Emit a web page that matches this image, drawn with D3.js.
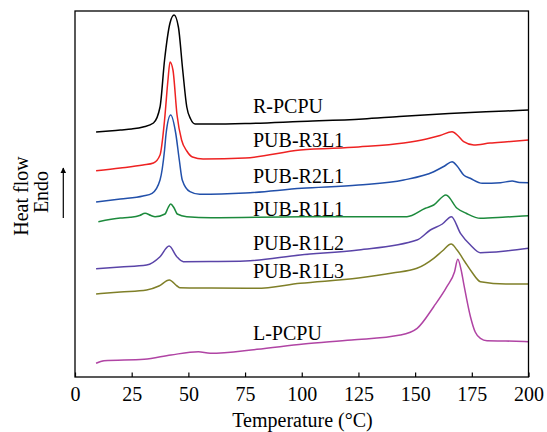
<!DOCTYPE html>
<html>
<head>
<meta charset="utf-8">
<script src="https://cdn.jsdelivr.net/npm/d3@7"></script>
<style>
  body { margin: 0; background: #fff; }
  text { font-family: "Liberation Serif", "Times New Roman", serif; }
</style>
</head>
<body>
<svg width="547" height="432"></svg>
<script>
// DSC curves, [temperature (°C), heat flow (a.u., endo up, offset per curve)]
const rPCPU = [[9.3,245],[15,246],[20,247],[25,248],[30,250],[34.6,254],[37.5,270],[39.5,317],[41.9,354],[43.7,362],
  [45.6,350],[47.5,307],[49.3,270],[51,258],[53,253],[60,253],[75,253.5],[99,255.5],[127,258],[143,260.5],[165,263.5],[190,266],[200,267]];
const pubR3L1 = [[9.3,206.3],[20,209],[30,212],[34.6,214],[37.5,222],[39.5,257],[41,297],[41.9,315],[43.2,307],[45,262],
  [47,237],[49.3,226],[51.8,220],[56.5,218],[75,219],[99.3,227],[125,230],[145,234],[155,238],[161,241.5],[166.3,245.3],
  [169,241],[171.4,235.3],[175.9,232],[183,234],[190.6,235.3],[200,237]];
const pubR2L1 = [[9.3,175],[20,178],[30,181],[34,183.7],[37.5,197],[39.5,227],[40.2,244],[42.2,262],[44.4,244],[46,217],
  [47.3,197],[50.7,185.3],[55,182.7],[75,184],[100,188.7],[125,192],[145,197],[158.2,205.3],[163,211],[166.3,215.3],
  [168.5,211],[171.4,202],[174.3,198.7],[179.6,193.7],[187.7,194.3],[192.8,196],[196,194.5],[200,194.3]];
const pubR1L1 = [[10.3,155.3],[20,159],[24.3,159.7],[28.5,161.5],[30.9,163.7],[33.5,161.5],[35.3,160.3],[39.7,163],[41,169],
  [42.2,173],[43.7,169],[45.1,163],[49.3,160.3],[60,159.3],[100,160.3],[146.4,160.3],[154.5,168.7],[158.2,172],[163.6,182],
  [168.5,168.7],[172.5,163.7],[178.8,158.7],[190,160],[200,161.3]];
const pubR1L2 = [[9.3,108.3],[20,110],[31.6,112],[37.5,120.3],[41.5,131],[44.9,120.3],[47.8,115.3],[60,115.5],[75,116],
  [99.3,122],[125,127],[150.8,137],[156.7,147],[162,153],[166,160.3],[170,143.7],[174.4,132],[178.8,124.3],[190,126],[200,128.7]];
const pubR1L3 = [[9.3,83],[20,85],[31.6,87],[37,91],[41.6,97],[45,91],[46.3,89.3],[60,89],[80,88.7],[99.3,93.7],[125,99],
  [140,104],[150.8,108.7],[158.2,118.7],[162,126],[165.9,133],[168.5,127],[172,115],[175,105],[178.8,95.3],[190,93],[200,93]];
const lPCPU = [[9.3,13.7],[12.8,16.3],[30.5,17.7],[42.3,22],[54.4,25.3],[59.6,23.7],[80.2,27.7],[100.8,33],[122,37],
  [143.5,42],[150.9,48.7],[158.2,70.3],[164,90.3],[167.4,105.3],[168.8,117.7],[170.3,107],[171.4,93.7],[174.4,60.3],
  [176.5,45],[178.8,38.7],[181.7,36.3],[190,36],[200,35.3]];

const seriesNames = ["R-PCPU", "PUB-R3L1", "PUB-R2L1", "PUB-R1L1", "PUB-R1L2", "PUB-R1L3", "L-PCPU"];
const seriesData = [rPCPU, pubR3L1, pubR2L1, pubR1L1, pubR1L2, pubR1L3, lPCPU];
const labelLevels = [263.7, 230.3, 194.3, 161, 127, 98.7, 37];
const xTicks = [0, 25, 50, 75, 100, 125, 150, 175, 200];

const colors = ["#000000", "#ee2222", "#2250aa", "#1c8a3c", "#5a44a8", "#7f7f28", "#b044a4"];

const margin = {top: 11, right: 18.5, bottom: 55, left: 75},
    width = 547 - margin.left - margin.right,
    height = 432 - margin.top - margin.bottom;

const svg = d3.select("svg");
const g = svg.append("g")
    .attr("transform", `translate(${margin.left}, ${margin.top})`);

const x = d3.scaleLinear().domain([0, 200]).range([0, width]);
const y = d3.scaleLinear().domain([0, height]).range([height, 0]);

// curves
const line = d3.line()
    .x(d => x(d[0]))
    .y(d => y(d[1]))
    .curve(d3.curveMonotoneX);

g.selectAll("path.curve")
    .data(seriesData)
    .enter()
    .append("path")
    .attr("class", "curve")
    .attr("d", line)
    .attr("fill", "none")
    .attr("stroke", (d, i) => colors[i])
    .attr("stroke-width", 1.5);

// curve labels
g.selectAll("text.lbl")
    .data(seriesNames)
    .enter()
    .append("text")
    .attr("class", "lbl")
    .attr("x", x(78.5))
    .attr("y", (d, i) => y(labelLevels[i]))
    .attr("font-size", "20px")
    .attr("fill", "#000")
    .text(d => d);

// x axis, ticks pointing inward
const xAxis = g.append("g")
    .attr("transform", `translate(0, ${height})`)
    .call(d3.axisBottom(x).tickValues(xTicks).tickSizeInner(-4.5).tickSizeOuter(0).tickPadding(9.5));
xAxis.select(".domain").remove();
xAxis.selectAll("line").attr("stroke", "#000").attr("stroke-width", 1.2);
xAxis.selectAll("text")
    .attr("font-family", "Liberation Serif, Times New Roman, serif")
    .attr("font-size", "20px")
    .attr("fill", "#000");

// frame
g.append("rect")
    .attr("width", width)
    .attr("height", height)
    .attr("fill", "none")
    .attr("stroke", "#000")
    .attr("stroke-width", 1.3);

// axis titles
svg.append("text")
    .attr("x", 302.5)
    .attr("y", 426.5)
    .attr("text-anchor", "middle")
    .attr("font-size", "20px")
    .text("Temperature (°C)");

svg.append("text")
    .attr("transform", "translate(27.5, 196) rotate(-90)")
    .attr("text-anchor", "middle")
    .attr("font-size", "20px")
    .text("Heat flow");

svg.append("text")
    .attr("transform", "translate(48, 192) rotate(-90)")
    .attr("text-anchor", "middle")
    .attr("font-size", "20px")
    .text("Endo");

// endo arrow
svg.append("defs").append("marker")
    .attr("id", "arrow")
    .attr("viewBox", "0 0 10 10")
    .attr("refX", 9)
    .attr("refY", 5)
    .attr("markerWidth", 6)
    .attr("markerHeight", 8)
    .attr("markerUnits", "userSpaceOnUse")
    .attr("orient", "auto")
    .append("path")
    .attr("d", "M0,0 L10,5 L0,10 Z")
    .attr("fill", "#000");

svg.append("line")
    .attr("x1", 63.3).attr("y1", 218)
    .attr("x2", 63.3).attr("y2", 168)
    .attr("stroke", "#000")
    .attr("stroke-width", 1.2)
    .attr("marker-end", "url(#arrow)");
</script>
</body>
</html>
